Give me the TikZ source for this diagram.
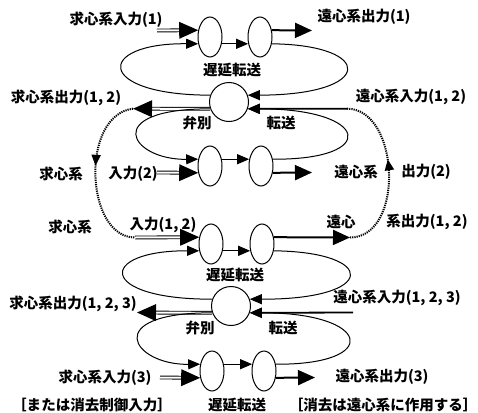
\documentclass[tikz,border=0pt]{standalone}
\usepackage{fontspec}
\newfontfamily\jp{Noto Sans CJK JP}
\usetikzlibrary{shapes.geometric, arrows.meta, decorations.markings}

\begin{document}
\begin{tikzpicture}[
        x=1pt, y=-1pt,
        cell/.style={ellipse, draw, line width=1pt, minimum width=24pt, minimum height=40pt, inner sep=0pt},
        hub/.style={circle, draw, line width=1pt, minimum size=39pt, inner sep=0pt},
        txt/.style={font=\jp\bfseries\fontsize{14.5pt}{16pt}\selectfont, inner sep=0pt},
        feed/.style={double, double distance=2pt, line width=0.9pt, shorten >=16pt, postaction={decorate},
            decoration={markings, mark=at position 1 with {\fill (0pt,0pt) -- (-19pt,8.5pt) -- (-19pt,-8.5pt) -- cycle;}}},
        emit/.style={-{Triangle[length=17pt, width=15pt]}, line width=2pt},
        looparc/.style={-{Triangle[length=12pt, width=10pt]}, line width=1pt},
        relay/.style={dash pattern=on 1.2pt off 1pt, line width=2pt, postaction={decorate},
            decoration={markings, mark=at position #1 with {\arrow{Triangle[length=11pt, width=9pt]}}}},
        relay/.default=0.5
    ]
    \useasboundingbox (0,0) rectangle (478,412);

    % upper block
    \node[cell] (a1) at (210,37) {};
    \node[cell] (b1) at (260,37) {};
    \node[hub] (c1) at (229,102) {};
    \node[cell] (a2) at (210,166) {};
    \node[cell] (b2) at (261,166) {};
    % lower block
    \node[cell] (a3) at (211,244) {};
    \node[cell] (b3) at (262,244) {};
    \node[hub] (c2) at (231,306) {};
    \node[cell] (a4) at (212,371) {};
    \node[cell] (b4) at (264,371) {};

    \coordinate (in1) at (157,30.5);
    \coordinate (out1) at (312,30.5);
    \coordinate (out12) at (133,108.7);
    \coordinate (in12) at (347,108.7);
    \coordinate (in2) at (157,172.5);
    \coordinate (out2) at (312,172.5);
    \coordinate (in12b) at (135,237.5);
    \coordinate (out12b) at (350,237.5);
    \coordinate (out123) at (137,312.5);
    \coordinate (in123) at (353,312.5);
    \coordinate (in3) at (160,377.5);
    \coordinate (out3) at (315,377.5);

    \draw[feed] (in1) -- (a1.150);
    \draw[looparc] (a1.-30) -- (b1.-150);
    \draw[emit] (b1.30) -- (out1);
    \draw[looparc] (b1.-30) .. controls (375,45) and (375,95) .. (c1.20);
    \draw[looparc] (c1.160) .. controls (95,95) and (95,43) .. (a1.-150);
    \draw[feed] (c1.-160) -- (out12);
    \draw[looparc, line width=1.8pt] (in12) -- (c1.-20);
    \draw[looparc] (c1.-160) .. controls (100,108.7) and (130,160) .. (a2.150);
    \draw[looparc] (b2.30) .. controls (380,160) and (370,108.7) .. (c1.-20);
    \draw[feed] (in2) -- (a2.-150);
    \draw[looparc] (a2.30) -- (b2.150);
    \draw[emit] (b2.-30) -- (out2);

    \draw[feed] (in12b) -- (a3.150);
    \draw[looparc] (a3.-30) -- (b3.-150);
    \draw[emit] (b3.30) -- (out12b);
    \draw[looparc] (b3.-30) .. controls (378,252) and (378,299.5) .. (c2.20);
    \draw[looparc] (c2.160) .. controls (97,299.5) and (97,250.5) .. (a3.-150);
    \draw[feed] (c2.-160) -- (out123);
    \draw[looparc, line width=1.8pt] (in123) -- (c2.-20);
    \draw[looparc] (c2.-160) .. controls (100,312.5) and (132,365) .. (a4.150);
    \draw[looparc] (b4.30) .. controls (382,365) and (372,312.5) .. (c2.-20);
    \draw[feed] (in3) -- (a4.-150);
    \draw[looparc] (a4.30) -- (b4.150);
    \draw[emit] (b4.-30) -- (out3);

    % feedback between the blocks
    \draw[relay=0.45] (out12) .. controls (80,115) and (85,237.5) .. (in12b);
    \draw[relay=0.58] (out12b) .. controls (405,237.5) and (400,108.7) .. (in12);

    \node[txt] (tin1) at (116,20) {求心系入力(1)};
    \node[txt] (tout1) at (364,17) {遠心系出力(1)};
    \node[txt] (tdel1) at (232,70) {遅延転送};
    \node[txt] (tout12) at (66,98) {求心系出力(1, 2)};
    \node[txt] (tin12) at (411,97) {遠心系入力(1, 2)};
    \node[txt] (tdis1) at (197,123) {弁別};
    \node[txt] (tfw1) at (281,123) {転送};
    \node[txt] (tin2a) at (61,174) {求心系};
    \node[txt] (tin2b) at (133,174) {入力(2)};
    \node[txt] (tout2a) at (356,172) {遠心系};
    \node[txt] (tout2b) at (426,172) {出力(2)};
    \node[txt] (tin12a) at (70,227) {求心系};
    \node[txt] (tin12c) at (163,225) {入力(1, 2)};
    \node[txt] (tout12a) at (341,222) {遠心};
    \node[txt] (tout12c) at (427,222) {系出力(1, 2)};
    \node[txt] (tdel2) at (235,275) {遅延転送};
    \node[txt] (tout123) at (73,304) {求心系出力(1, 2, 3)};
    \node[txt] (tin123) at (397,298) {遠心系入力(1, 2, 3)};
    \node[txt] (tdis2) at (200,328) {弁別};
    \node[txt] (tfw2) at (283,328) {転送};
    \node[txt] (tin3) at (105,378) {求心系入力(3)};
    \node[txt] (tnote1) at (92,405) {［または消去制御入力］};
    \node[txt] (tdel3) at (237,405) {遅延転送};
    \node[txt] (tout3) at (382,377) {遠心系出力(3)};
    \node[txt] (tnote2) at (383,405) {［消去は遠心系に作用する］};
\end{tikzpicture}
\end{document}
